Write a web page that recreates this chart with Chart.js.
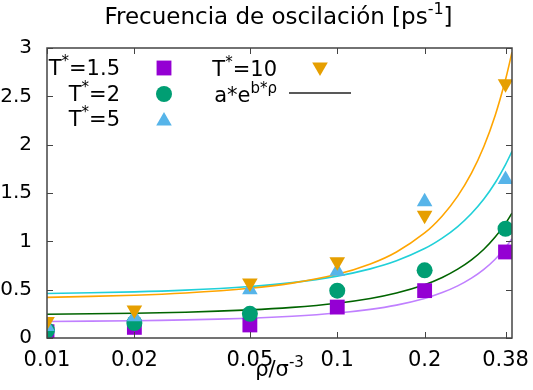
<!DOCTYPE html>
<html>
<head>
<meta charset="utf-8">
<script src="https://cdn.jsdelivr.net/npm/chart.js@4"></script>
<style>
html, body { margin: 0; padding: 0; background: #fff; }
canvas { display: block; }
</style>
</head>
<body>
<canvas id="chart" width="533" height="390"></canvas>
<script>
// measured densities and frequencies
const rho = [0.01, 0.02, 0.05, 0.1, 0.2, 0.38];
const t15 = [0.065, 0.11, 0.135, 0.32, 0.49, 0.89];
const t2 = [0.08, 0.155, 0.25, 0.49, 0.70, 1.13];
const t5 = [0.12, 0.22, 0.50, 0.69, 1.41, 1.64];
const t10 = [0.17, 0.29, 0.57, 0.79, 1.27, 2.63];

// fitted curves a*e^(b*rho)
const fitRho = [0.01, 0.02, 0.03, 0.05, 0.07, 0.1, 0.13, 0.16, 0.2, 0.23, 0.26, 0.29, 0.32, 0.35, 0.38, 0.4];
const fit15 = [0.171, 0.179, 0.187, 0.205, 0.225, 0.258, 0.296, 0.340, 0.409, 0.470, 0.539, 0.619, 0.710, 0.815, 0.936, 1.026];
const fit2 = [0.245, 0.256, 0.267, 0.291, 0.317, 0.360, 0.409, 0.465, 0.551, 0.626, 0.712, 0.808, 0.918, 1.044, 1.186, 1.292];
const fit5 = [0.460, 0.477, 0.495, 0.533, 0.573, 0.640, 0.715, 0.798, 0.925, 1.033, 1.153, 1.288, 1.438, 1.606, 1.794, 1.931];
const fit10 = [0.420, 0.442, 0.465, 0.514, 0.568, 0.659, 0.766, 0.890, 1.087, 1.263, 1.468, 1.705, 1.981, 2.302, 2.674, 2.956];

const xTicks = [0.01, 0.02, 0.05, 0.1, 0.2, 0.38];
const yTicks = [0, 0.5, 1, 1.5, 2, 2.5, 3];

const FONT = "'DejaVu Sans', sans-serif";

function pts(xs, ys) {
    return xs.map((x, i) => ({ x: x, y: ys[i] }));
}

function markerSet(label, ys, color, style, radius, rotation, order) {
    return {
        type: "scatter",
        label: label,
        data: pts(rho, ys),
        backgroundColor: color,
        borderWidth: 0,
        pointStyle: style,
        pointRadius: radius,
        pointHoverRadius: radius,
        rotation: rotation,
        order: order
    };
}

function fitSet(ys, color, order) {
    return {
        type: "line",
        data: pts(fitRho, ys),
        borderColor: color,
        borderWidth: 1.6,
        pointRadius: 0,
        fill: false,
        tension: 0.3,
        order: order
    };
}

// draws text with superscript parts
function richText(ctx, parts, x, y, size, align) {
    const sup = Math.round(size * 0.7);
    let w = 0;
    parts.forEach(p => {
        ctx.font = (p.sup ? sup : size) + "px " + FONT;
        w += ctx.measureText(p.t).width;
    });
    let cx = align === "right" ? x - w : align === "center" ? x - w / 2 : x;
    ctx.textAlign = "left";
    ctx.textBaseline = "alphabetic";
    parts.forEach(p => {
        ctx.font = (p.sup ? sup : size) + "px " + FONT;
        ctx.fillText(p.t, cx, p.sup ? y - size * 0.45 : y);
        cx += ctx.measureText(p.t).width;
    });
}

const decorations = {
    id: "decorations",
    afterDatasetsDraw(chart) {
        const ctx = chart.ctx;
        const a = chart.chartArea;
        const xs = chart.scales.x, ys = chart.scales.y;
        ctx.save();
        ctx.strokeStyle = "#444";
        ctx.lineWidth = 1;
        ctx.beginPath();
        xTicks.forEach(v => {
            const px = Math.round(xs.getPixelForValue(v)) + 0.5;
            ctx.moveTo(px, a.bottom); ctx.lineTo(px, a.bottom - 6);
            ctx.moveTo(px, a.top); ctx.lineTo(px, a.top + 6);
        });
        yTicks.forEach(v => {
            const py = Math.round(ys.getPixelForValue(v)) + 0.5;
            ctx.moveTo(a.left, py); ctx.lineTo(a.left + 6, py);
            ctx.moveTo(a.right, py); ctx.lineTo(a.right - 6, py);
        });
        ctx.stroke();
        ctx.lineWidth = 1.5;
        ctx.strokeRect(a.left, a.top, a.right - a.left, a.bottom - a.top);

        ctx.fillStyle = "#000";
        richText(ctx, [{ t: "Frecuencia de oscilación [ps" }, { t: "-1", sup: true }, { t: "]" }],
            (a.left + a.right) / 2 - 1, 24, 23, "center");
        richText(ctx, [{ t: "ρ/σ" }, { t: "-3", sup: true }], (a.left + a.right) / 2, 376, 21, "center");

        // key
        const lsize = 21;
        richText(ctx, [{ t: "T" }, { t: "*", sup: true }, { t: "=1.5" }], 120, 75, lsize, "right");
        richText(ctx, [{ t: "T" }, { t: "*", sup: true }, { t: "=2" }], 120, 101, lsize, "right");
        richText(ctx, [{ t: "T" }, { t: "*", sup: true }, { t: "=5" }], 120, 126, lsize, "right");
        richText(ctx, [{ t: "T" }, { t: "*", sup: true }, { t: "=10" }], 277, 76, lsize, "right");
        richText(ctx, [{ t: "a*e" }, { t: "b*ρ", sup: true }], 277, 102, lsize, "right");

        const draw = Chart.helpers.drawPoint;
        ctx.fillStyle = "#9400d3";
        draw(ctx, { pointStyle: "rect", radius: 10.5, rotation: 0, borderWidth: 0 }, 164, 68);
        ctx.fillStyle = "#009e73";
        draw(ctx, { pointStyle: "circle", radius: 8, rotation: 0, borderWidth: 0 }, 164, 94);
        ctx.fillStyle = "#56b4e9";
        draw(ctx, { pointStyle: "triangle", radius: 9, rotation: 0, borderWidth: 0 }, 164, 121);
        ctx.fillStyle = "#e69f00";
        draw(ctx, { pointStyle: "triangle", radius: 9, rotation: 180, borderWidth: 0 }, 320, 67);
        ctx.strokeStyle = "#222";
        ctx.lineWidth = 1.5;
        ctx.beginPath();
        ctx.moveTo(289, 93); ctx.lineTo(351, 93);
        ctx.stroke();
        ctx.restore();
    }
};

new Chart(document.getElementById("chart"), {
    type: "scatter",
    data: {
        datasets: [
            markerSet("T*=10", t10, "#e69f00", "triangle", 9, 180, 1),
            markerSet("T*=5", t5, "#56b4e9", "triangle", 9, 0, 2),
            markerSet("T*=2", t2, "#009e73", "circle", 8, 0, 3),
            markerSet("T*=1.5", t15, "#9400d3", "rect", 10.5, 0, 4),
            fitSet(fit10, "#ffa500", 5),
            fitSet(fit5, "#20d0d8", 6),
            fitSet(fit2, "#006400", 7),
            fitSet(fit15, "#c080ff", 8)
        ]
    },
    options: {
        responsive: false,
        animation: false,
        devicePixelRatio: 1,
        layout: { padding: { top: 48, right: 21, bottom: 0, left: 0 } },
        plugins: { legend: { display: false }, tooltip: { enabled: false }, title: { display: false } },
        scales: {
            x: {
                type: "logarithmic",
                min: 0.01,
                max: 0.4,
                afterBuildTicks: scale => { scale.ticks = xTicks.map(v => ({ value: v })); },
                afterFit: scale => { scale.height = 52; },
                grid: { display: false },
                border: { display: false },
                ticks: {
                    color: "#000",
                    font: { family: FONT, size: 21 },
                    padding: 2,
                    maxRotation: 0,
                    autoSkip: false,
                    callback: v => String(v)
                }
            },
            y: {
                min: 0,
                max: 3,
                afterBuildTicks: scale => { scale.ticks = yTicks.map(v => ({ value: v })); },
                afterFit: scale => { scale.width = 47; },
                grid: { display: false },
                border: { display: false },
                ticks: {
                    color: "#000",
                    font: { family: FONT, size: 20 },
                    padding: 7,
                    callback: v => String(v)
                }
            }
        }
    },
    plugins: [decorations]
});
</script>
</body>
</html>
